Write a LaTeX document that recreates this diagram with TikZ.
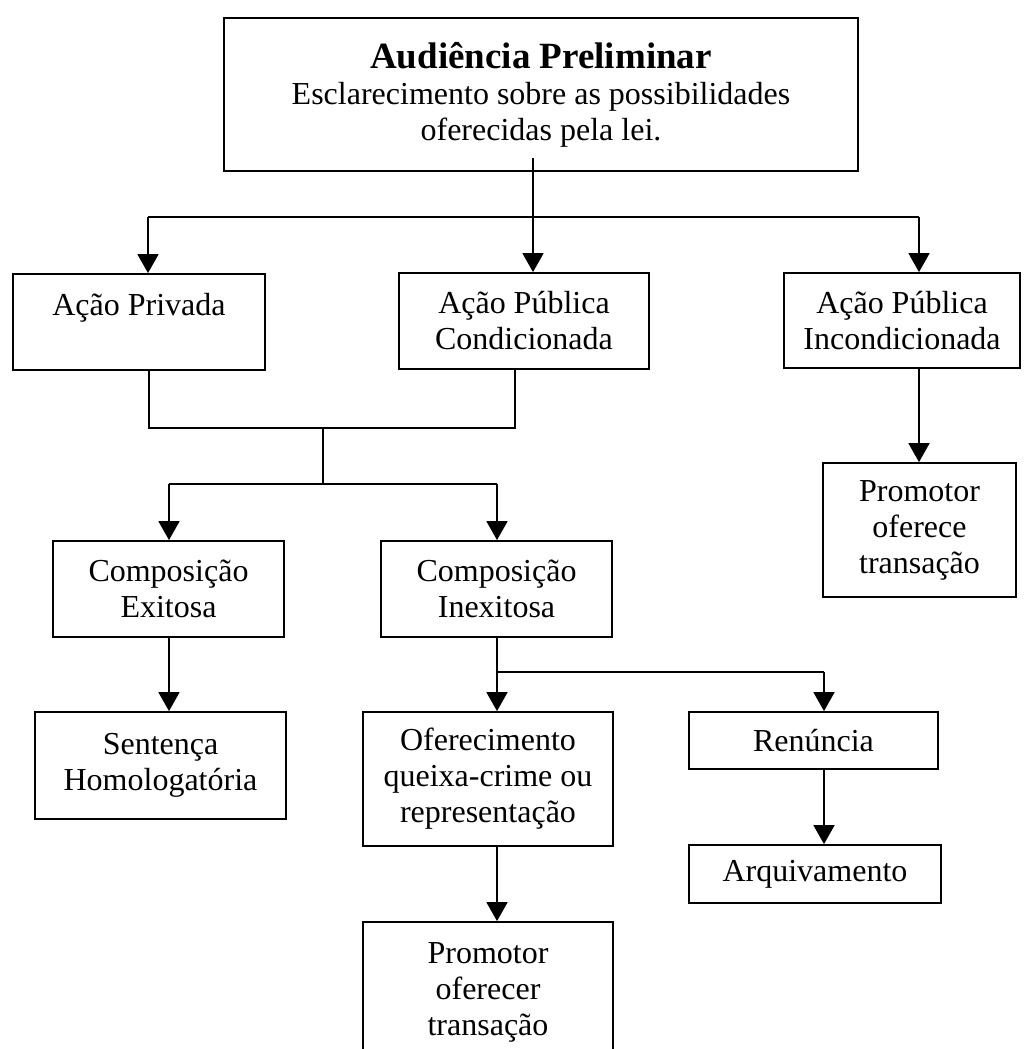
\documentclass[tikz,border=0pt]{standalone}
\usepackage{fontspec}
\setmainfont{Liberation Serif}
\usetikzlibrary{arrows.meta}
\begin{document}
\begin{tikzpicture}[x=1pt,y=-1pt,
  box/.style={draw, line width=1.8pt, inner sep=0pt, align=center,
    font=\fontsize{32}{36}\selectfont},
  conn/.style={line width=1.7pt},
  arr/.style={conn, -{Triangle[width=21pt,length=19pt]}}]
\useasboundingbox (0,0) rectangle (1023,1049);
% boxes
\node[box, minimum width=634, minimum height=153] (top) at (541,94.5)
  {{\fontsize{37}{36}\selectfont\bfseries Audiência Preliminar}\\Esclarecimento sobre as possibilidades\\oferecidas pela lei.};
\node[box, minimum width=252, minimum height=96] (ap) at (139,322) {Ação Privada\\\mbox{}};
\node[box, minimum width=250, minimum height=96] (apc) at (524,321) {Ação Pública\\Condicionada};
\node[box, minimum width=236, minimum height=95] (api) at (902,320.5) {Ação Pública\\Incondicionada};
\node[box, minimum width=193, minimum height=134] (prom1) at (919.5,530) {Promotor\\oferece\\transação};
\node[box, minimum width=231, minimum height=96] (ce) at (168.5,589) {Composição\\Exitosa};
\node[box, minimum width=231, minimum height=96] (ci) at (496.5,589) {Composição\\Inexitosa};
\node[box, minimum width=251, minimum height=107] (sent) at (160.5,765.5) {Sentença\\Homologatória};
\node[box, minimum width=250, minimum height=134] (ofer) at (488,779) {Oferecimento\\queixa-crime ou\\representação};
\node[box, minimum width=249, minimum height=57] (ren) at (813.5,740.5) {Renúncia};
\node[box, minimum width=252, minimum height=58] (arq) at (815,874) {Arquivamento};
\node[box, minimum width=250, minimum height=140] (prom2) at (488,992) {Promotor\\oferecer\\transação};
% coordinates
\coordinate (ts) at (533,158);
\coordinate (hL) at (148,217);
\coordinate (hR) at (919,217);
\coordinate (m1) at (149,428);
\coordinate (m2) at (515,428);
\coordinate (m3) at (323,428);
\coordinate (m4) at (323,484);
\coordinate (bL) at (169,484);
\coordinate (bR) at (497,484);
\coordinate (c1) at (497,672);
\coordinate (c2) at (824,672);
% connectors
\draw[arr] (ts) -- (ts |- apc.north);
\draw[conn] (hL) -- (hR);
\draw[arr] (hL) -- (hL |- ap.north);
\draw[arr] (hR) -- (hR |- api.north);
\draw[arr] (hR |- api.south) -- (hR |- prom1.north);
\draw[conn] (m1 |- ap.south) -- (m1) -- (m2) -- (m2 |- apc.south);
\draw[conn] (m3) -- (m4);
\draw[conn] (bL) -- (bR);
\draw[arr] (bL) -- (bL |- ce.north);
\draw[arr] (bR) -- (bR |- ci.north);
\draw[arr] (bL |- ce.south) -- (bL |- sent.north);
\draw[arr] (bR |- ci.south) -- (bR |- ofer.north);
\draw[conn] (c1) -- (c2);
\draw[arr] (c2) -- (c2 |- ren.north);
\draw[arr] (c2 |- ren.south) -- (c2 |- arq.north);
\draw[arr] (bR |- ofer.south) -- (bR |- prom2.north);
\end{tikzpicture}
\end{document}
